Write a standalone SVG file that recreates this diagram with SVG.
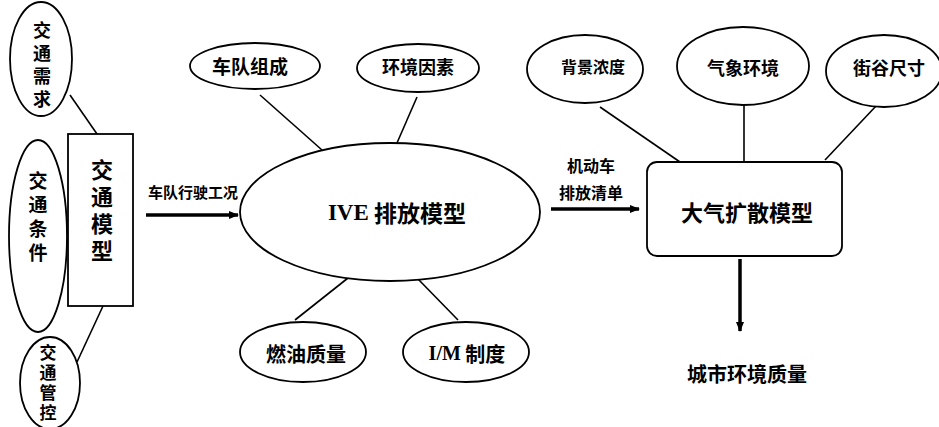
<svg xmlns="http://www.w3.org/2000/svg" width="939" height="427" viewBox="0 0 939 427">
<defs>
<marker id="ah" markerWidth="10" markerHeight="8" refX="9" refY="4" orient="auto" markerUnits="userSpaceOnUse">
<path d="M0,0 L10,4 L0,8 Z" fill="#000"/>
</marker>
<style>
.sh{fill:#fff;stroke:#000;stroke-width:1.8}
.ln{stroke:#000;stroke-width:1.6;fill:none}
.ar{stroke:#000;stroke-width:3.5;fill:none}
.t{font-family:"Noto Sans CJK SC","Noto Sans CJK JP",sans-serif;font-weight:bold;fill:#000;text-anchor:middle;dominant-baseline:central}
.v{font-family:"Noto Sans CJK SC","Noto Sans CJK JP",sans-serif;font-weight:bold;fill:#000;text-anchor:middle;writing-mode:vertical-rl}
.s{font-family:"Liberation Serif","Noto Sans CJK SC",serif;font-weight:bold}
</style>
</defs>
<rect width="939" height="427" fill="#fff"/>
<g id="connectors">
<line class="ln" x1="70" y1="95" x2="97" y2="134"/>
<line class="ln" x1="58" y1="220" x2="68" y2="220"/>
<line class="ln" x1="77" y1="362" x2="103" y2="306"/>
<line class="ln" x1="260" y1="95" x2="322" y2="150"/>
<line class="ln" x1="417" y1="97" x2="397" y2="143"/>
<line class="ln" x1="348" y1="278" x2="295" y2="320"/>
<line class="ln" x1="418" y1="279" x2="458" y2="320"/>
<line class="ln" x1="600" y1="107" x2="680" y2="162"/>
<line class="ln" x1="744" y1="105" x2="744" y2="162"/>
<line class="ln" x1="877" y1="105" x2="825" y2="160"/>
<line class="ar" x1="146" y1="215" x2="238" y2="215" marker-end="url(#ah)"/>
<line class="ar" x1="551" y1="209" x2="639" y2="209" marker-end="url(#ah)"/>
<line class="ar" x1="740" y1="259" x2="740" y2="331" marker-end="url(#ah)"/>
<text class="t" x="193" y="191" font-size="15">车队行驶工况</text>
<text class="t" x="591" y="165" font-size="16">机动车</text>
<text class="t" x="591" y="192" font-size="16">排放清单</text>
</g>
<g id="jtxq">
<ellipse class="sh" cx="41" cy="59" rx="31" ry="57"/>
<text class="v" x="42" y="67" font-size="18" letter-spacing="5">交通需求</text>
</g>
<g id="jttj">
<ellipse class="sh" cx="38" cy="236" rx="29" ry="96"/>
<text class="v" x="38" y="219" font-size="19" letter-spacing="5">交通条件</text>
</g>
<g id="jtgk">
<ellipse class="sh" cx="50" cy="383" rx="30" ry="46"/>
<text class="v" x="48" y="384" font-size="17" letter-spacing="3">交通管控</text>
</g>
<g id="jtmx">
<rect class="sh" x="68" y="134" width="65" height="172"/>
<text class="v" x="102" y="213" font-size="22" letter-spacing="5">交通模型</text>
</g>
<g id="ive">
<ellipse class="sh" cx="390" cy="212" rx="150" ry="69"/>
<text class="t" x="397" y="212" font-size="23"><tspan class="s">IVE</tspan> 排放模型</text>
</g>
<g id="cdzc">
<ellipse class="sh" cx="255" cy="66" rx="65" ry="23"/>
<text class="t" x="250" y="65" font-size="19">车队组成</text>
</g>
<g id="hjys">
<ellipse class="sh" cx="418" cy="68" rx="61" ry="24"/>
<text class="t" x="418" y="66" font-size="18">环境因素</text>
</g>
<g id="ryzl">
<ellipse class="sh" cx="303" cy="352" rx="63" ry="30"/>
<text class="t" x="306" y="353" font-size="20">燃油质量</text>
</g>
<g id="imzd">
<ellipse class="sh" cx="466" cy="352" rx="63" ry="30"/>
<text class="t" x="467" y="353" font-size="20"><tspan class="s">I/M</tspan> 制度</text>
</g>
<g id="bjnd">
<ellipse class="sh" cx="585" cy="69" rx="58" ry="34"/>
<text class="t" x="593" y="66" font-size="16">背景浓度</text>
</g>
<g id="qxhj">
<ellipse class="sh" cx="743" cy="66" rx="66" ry="39"/>
<text class="t" x="743" y="67" font-size="18">气象环境</text>
</g>
<g id="jgcc">
<ellipse class="sh" cx="884" cy="71" rx="58" ry="36"/>
<text class="t" x="889" y="67" font-size="18">街谷尺寸</text>
</g>
<g id="dqks">
<rect class="sh" x="647" y="162" width="195" height="94" rx="10" ry="10"/>
<text class="t" x="747" y="211" font-size="22">大气扩散模型</text>
</g>
<g id="cshj">
<text class="t" x="747" y="373" font-size="20">城市环境质量</text>
</g>
</svg>
